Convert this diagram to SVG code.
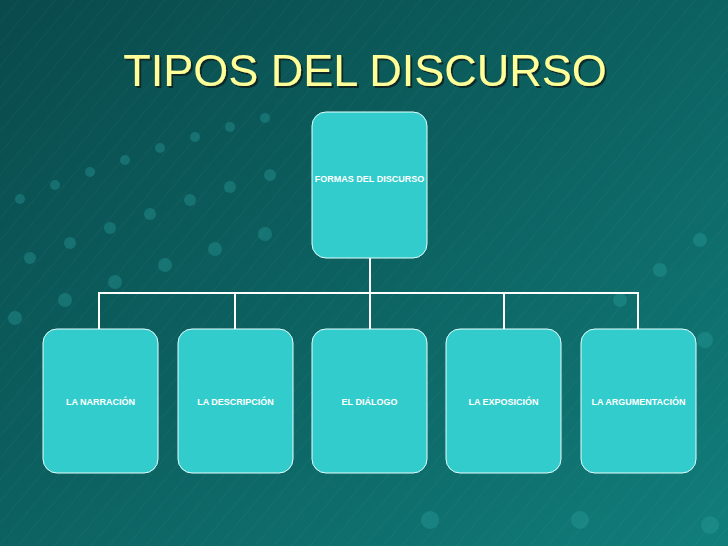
<svg xmlns="http://www.w3.org/2000/svg" width="728" height="546" viewBox="0 0 728 546">
<defs>
<linearGradient id="bg" x1="0" y1="0" x2="1" y2="1">
<stop offset="0" stop-color="#0a4a4c"/>
<stop offset="0.5" stop-color="#0c6261"/>
<stop offset="1" stop-color="#117e7b"/>
</linearGradient>
<pattern id="diag" width="14" height="14" patternUnits="userSpaceOnUse" patternTransform="rotate(40)">
<line x1="0" y1="0" x2="0" y2="14" stroke="#ffffff" stroke-opacity="0.06" stroke-width="1"/>
</pattern>
<filter id="shadow" x="-5%" y="-20%" width="110%" height="140%">
<feDropShadow dx="2" dy="2" stdDeviation="0.6" flood-color="#102020" flood-opacity="0.85"/>
</filter>
<style>
.box{fill:#33cccc;stroke:#e6ffff;stroke-width:1}
.lbl{font-family:"Liberation Sans",Arial,sans-serif;font-weight:bold;font-size:9px;fill:#ffffff;text-anchor:middle}
.con{stroke:#ffffff;stroke-width:2;fill:none}
.title{font-family:"Liberation Sans",Arial,sans-serif;font-size:45px;text-anchor:middle;fill:#ffff99;filter:url(#shadow)}
.dot{fill:#2aa3a0;opacity:0.35}
</style>
</defs>
<rect width="728" height="546" fill="url(#bg)"/>
<rect width="728" height="546" fill="url(#diag)"/>
<g id="decor">
<circle class="dot" cx="20" cy="199" r="5"/><circle class="dot" cx="55" cy="185" r="5"/><circle class="dot" cx="90" cy="172" r="5"/><circle class="dot" cx="125" cy="160" r="5"/><circle class="dot" cx="160" cy="148" r="5"/><circle class="dot" cx="195" cy="137" r="5"/><circle class="dot" cx="230" cy="127" r="5"/><circle class="dot" cx="265" cy="118" r="5"/>
<circle class="dot" cx="30" cy="258" r="6"/><circle class="dot" cx="70" cy="243" r="6"/><circle class="dot" cx="110" cy="228" r="6"/><circle class="dot" cx="150" cy="214" r="6"/><circle class="dot" cx="190" cy="200" r="6"/><circle class="dot" cx="230" cy="187" r="6"/><circle class="dot" cx="270" cy="175" r="6"/>
<circle class="dot" cx="15" cy="318" r="7"/><circle class="dot" cx="65" cy="300" r="7"/><circle class="dot" cx="115" cy="282" r="7"/><circle class="dot" cx="165" cy="265" r="7"/><circle class="dot" cx="215" cy="249" r="7"/><circle class="dot" cx="265" cy="234" r="7"/>
<circle class="dot" cx="620" cy="300" r="7"/><circle class="dot" cx="660" cy="270" r="7"/><circle class="dot" cx="700" cy="240" r="7"/><circle class="dot" cx="640" cy="370" r="8"/><circle class="dot" cx="705" cy="340" r="8"/>
<circle class="dot" cx="430" cy="520" r="9"/><circle class="dot" cx="580" cy="520" r="9"/><circle class="dot" cx="710" cy="525" r="9"/>
</g>
<g id="title">
<text class="title" x="365" y="86">TIPOS DEL DISCURSO</text>
</g>
<g id="connectors">
<line class="con" x1="370" y1="258" x2="370" y2="329"/>
<polyline class="con" points="99,329 99,293 638,293 638,329"/>
<line class="con" x1="235" y1="293" x2="235" y2="329"/>
<line class="con" x1="504" y1="293" x2="504" y2="329"/>
</g>
<g id="formas">
<rect class="box" x="312" y="112" width="115" height="146" rx="14"/>
<text class="lbl" x="369.5" y="182">FORMAS DEL DISCURSO</text>
</g>
<g id="narracion">
<rect class="box" x="43" y="329" width="115" height="144" rx="14"/>
<text class="lbl" x="100.5" y="405">LA NARRACIÓN</text>
</g>
<g id="descripcion">
<rect class="box" x="178" y="329" width="115" height="144" rx="14"/>
<text class="lbl" x="235.5" y="405">LA DESCRIPCIÓN</text>
</g>
<g id="dialogo">
<rect class="box" x="312" y="329" width="115" height="144" rx="14"/>
<text class="lbl" x="369.5" y="405">EL DIÁLOGO</text>
</g>
<g id="exposicion">
<rect class="box" x="446" y="329" width="115" height="144" rx="14"/>
<text class="lbl" x="503.5" y="405">LA EXPOSICIÓN</text>
</g>
<g id="argumentacion">
<rect class="box" x="581" y="329" width="115" height="144" rx="14"/>
<text class="lbl" x="638.5" y="405">LA ARGUMENTACIÓN</text>
</g>
</svg>
